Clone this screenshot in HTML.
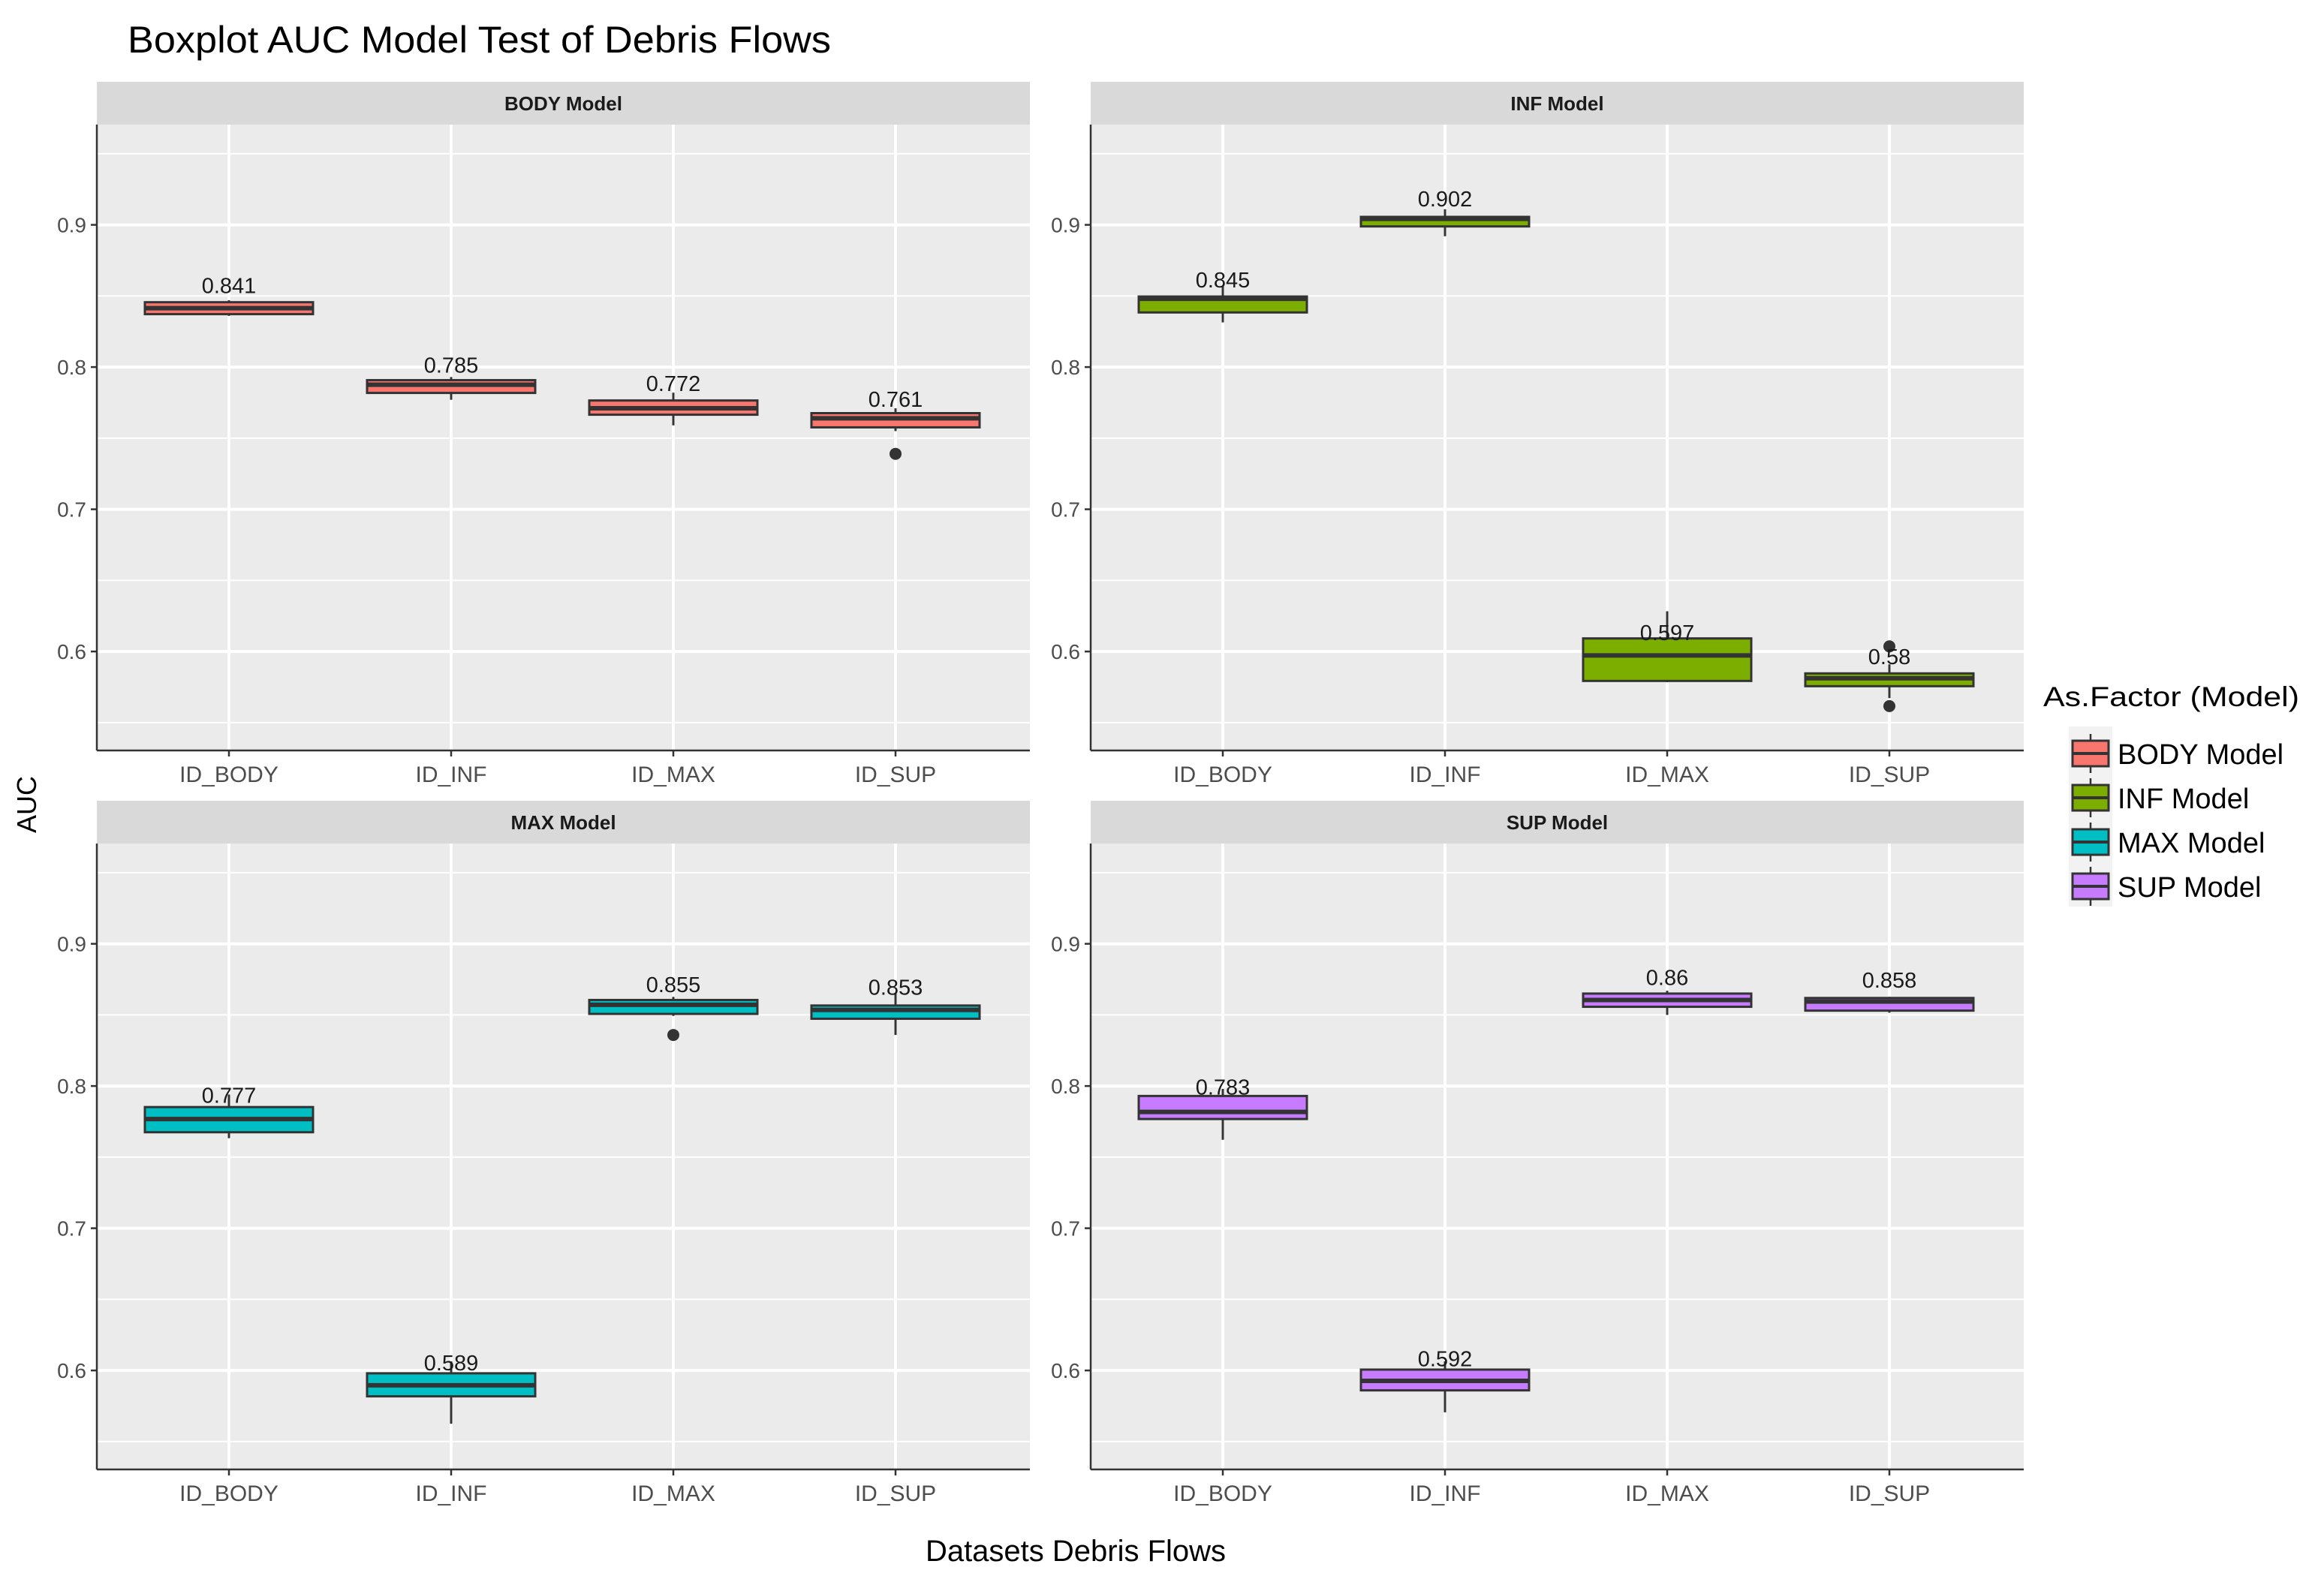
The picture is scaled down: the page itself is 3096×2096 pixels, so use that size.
<!DOCTYPE html>
<html><head><meta charset="utf-8">
<style>
html,body{margin:0;padding:0;background:#fff;}
svg{display:block;font-family:"Liberation Sans",Arial,sans-serif;}
</style></head>
<body>
<svg id="chart" width="3096" height="2096" viewBox="0 0 3096 2096" xmlns="http://www.w3.org/2000/svg">
<rect width="3096" height="2096" fill="#ffffff"/>
<text x="170" y="70" font-size="50" fill="#000" textLength="937" lengthAdjust="spacingAndGlyphs">Boxplot AUC Model Test of Debris Flows</text>
<text x="0" y="0" font-size="36" fill="#000" text-anchor="middle" transform="translate(48,1072) rotate(-90)">AUC</text>
<text x="1433" y="2080" font-size="40" fill="#000" text-anchor="middle">Datasets Debris Flows</text>
<g id="panels"></g>
<g id="legend"></g>
</svg>
<script>
const categories = ["ID_BODY","ID_INF","ID_MAX","ID_SUP"];
const panelNames = ["BODY Model","INF Model","MAX Model","SUP Model"];
const panelColors = ["#F8766D","#7CAE00","#00BFC4","#C77CFF"];
const yTicks = [0.6,0.7,0.8,0.9];
const yTickLabels = ["0.6","0.7","0.8","0.9"];
// per panel, per category: [lowerWhisker, q1, median, q3, upperWhisker]
const bodyStats = [[0.836,0.8372,0.8414,0.8456,0.847],[0.777,0.7818,0.7876,0.7908,0.793],[0.759,0.7665,0.771,0.7765,0.782],[0.755,0.7576,0.764,0.7676,0.771]];
const infStats  = [[0.8314,0.8384,0.848,0.8496,0.857],[0.892,0.8989,0.9042,0.9056,0.911],[0.5784,0.5793,0.5972,0.6092,0.6283],[0.5672,0.5756,0.5812,0.5846,0.591]];
const maxStats  = [[0.7633,0.7675,0.7768,0.7852,0.794],[0.5625,0.5818,0.5896,0.598,0.6064],[0.8493,0.8507,0.8571,0.8605,0.8627],[0.8359,0.8473,0.8535,0.8566,0.8655]];
const supStats  = [[0.7622,0.7768,0.7818,0.793,0.798],[0.5706,0.586,0.5927,0.6006,0.6064],[0.85,0.8557,0.8605,0.865,0.867],[0.8515,0.853,0.8594,0.8619,0.8627]];
const bodyOutliers = [[],[],[],[0.739]];
const infOutliers  = [[],[],[],[0.6036,0.5616]];
const maxOutliers  = [[],[],[0.8359],[]];
const supOutliers  = [[],[],[],[]];
const bodyLabels = [0.841,0.785,0.772,0.761];
const infLabels  = [0.845,0.902,0.597,0.58];
const maxLabels  = [0.777,0.589,0.855,0.853];
const supLabels  = [0.783,0.592,0.86,0.858];

const allStats=[bodyStats,infStats,maxStats,supStats];
const allOut=[bodyOutliers,infOutliers,maxOutliers,supOutliers];
const allLab=[bodyLabels,infLabels,maxLabels,supLabels];
const NS="http://www.w3.org/2000/svg";
const layout=[{x:129,y:166},{x:1453,y:166},{x:129,y:1124},{x:1453,y:1124}];
const PW=1243, PH=834, YMIN=0.5304, YMAX=0.9705;
function mk(tag,attrs,parent){const e=document.createElementNS(NS,tag);for(const k in attrs)e.setAttribute(k,attrs[k]);parent.appendChild(e);return e;}
const root=document.getElementById('panels');
panelNames.forEach((pn,pi)=>{
  const L=layout[pi];
  const yS=v=>L.y+PH-(v-YMIN)/(YMAX-YMIN)*PH;
  const xS=i=>L.x+176+i*296;
  const g=mk('g',{},root);
  
  
  const strip=mk('rect',{x:L.x,y:L.y-57,width:PW,height:57,fill:'#D9D9D9'},g);
  
  
  const st=mk('text',{x:L.x+PW/2,y:L.y-19,'font-size':26,'font-weight':'bold','text-anchor':'middle',fill:'#1a1a1a'},g);
  st.textContent=pn;
  
  
  mk('rect',{x:L.x,y:L.y,width:PW,height:PH,fill:'#EBEBEB'},g);
  for(let v=0.55;v<0.97;v+=0.1){mk('line',{x1:L.x,x2:L.x+PW,y1:yS(v),y2:yS(v),stroke:'#fff','stroke-width':2},g);}
  yTicks.forEach((t,ti)=>{
    mk('line',{x1:L.x,x2:L.x+PW,y1:yS(t),y2:yS(t),stroke:'#fff','stroke-width':4},g);
    mk('line',{x1:L.x-8,x2:L.x,y1:yS(t),y2:yS(t),stroke:'#333','stroke-width':2.5},g);
    const tl=mk('text',{x:L.x-14,y:yS(t)+10,'font-size':28,'text-anchor':'end',fill:'#4D4D4D'},g);
    tl.textContent=yTickLabels[ti];
    
    
  });
  categories.forEach((c,i)=>{
    mk('line',{x1:xS(i),x2:xS(i),y1:L.y,y2:L.y+PH,stroke:'#fff','stroke-width':4},g);
    mk('line',{x1:xS(i),x2:xS(i),y1:L.y+PH,y2:L.y+PH+8,stroke:'#333','stroke-width':2.5},g);
    const xl=mk('text',{x:xS(i),y:L.y+PH+42,'font-size':30,'text-anchor':'middle',fill:'#4D4D4D'},g);
    xl.textContent=c;
    
    
  });
  mk('line',{x1:L.x,x2:L.x,y1:L.y,y2:L.y+PH,stroke:'#333','stroke-width':2.5},g);
  mk('line',{x1:L.x,x2:L.x+PW,y1:L.y+PH,y2:L.y+PH,stroke:'#333','stroke-width':2.5},g);
  allStats[pi].forEach((s,i)=>{
    const bx=mk('g',{},g);
    
    
    const cx=xS(i);
    mk('line',{x1:cx,x2:cx,y1:yS(s[0]),y2:yS(s[4]),stroke:'#333','stroke-width':3},bx);
    mk('rect',{x:cx-112,y:yS(s[3]),width:224,height:Math.max(1,yS(s[1])-yS(s[3])),fill:panelColors[pi],stroke:'#333','stroke-width':3},bx);
    mk('line',{x1:cx-112,x2:cx+112,y1:yS(s[2]),y2:yS(s[2]),stroke:'#333','stroke-width':6},bx);
    allOut[pi][i].forEach(o=>{
      const p=mk('circle',{cx:cx,cy:yS(o),r:8,fill:'#333'},bx);
      
      
    });
    const lv=allLab[pi][i];
    const lt=mk('text',{x:cx,y:yS(lv)-21,'font-size':29,'text-anchor':'middle',fill:'#1a1a1a'},bx);
    lt.textContent=String(lv);
    
    
  });
});
const lg=document.getElementById('legend');
const lt=mk('text',{x:2722,y:941,'font-size':37,fill:'#000',textLength:341,lengthAdjust:'spacingAndGlyphs'},lg);
lt.textContent='As.Factor (Model)';


mk('rect',{x:2756,y:968,width:58,height:240,fill:'#F2F2F2'},lg);
panelNames.forEach((pn,i)=>{
  const cy=1004+i*59;
  const e=mk('g',{},lg);
  
  
  mk('line',{x1:2785,x2:2785,y1:cy-26,y2:cy+26,stroke:'#333','stroke-width':2.5},e);
  mk('rect',{x:2761,y:cy-17,width:48,height:34,fill:panelColors[i],stroke:'#333','stroke-width':3},e);
  mk('line',{x1:2761,x2:2809,y1:cy,y2:cy,stroke:'#333','stroke-width':4},e);
  const t=mk('text',{x:2821,y:cy+14,'font-size':38,fill:'#000'},e);
  t.textContent=pn;
});
</script>
</body></html>
